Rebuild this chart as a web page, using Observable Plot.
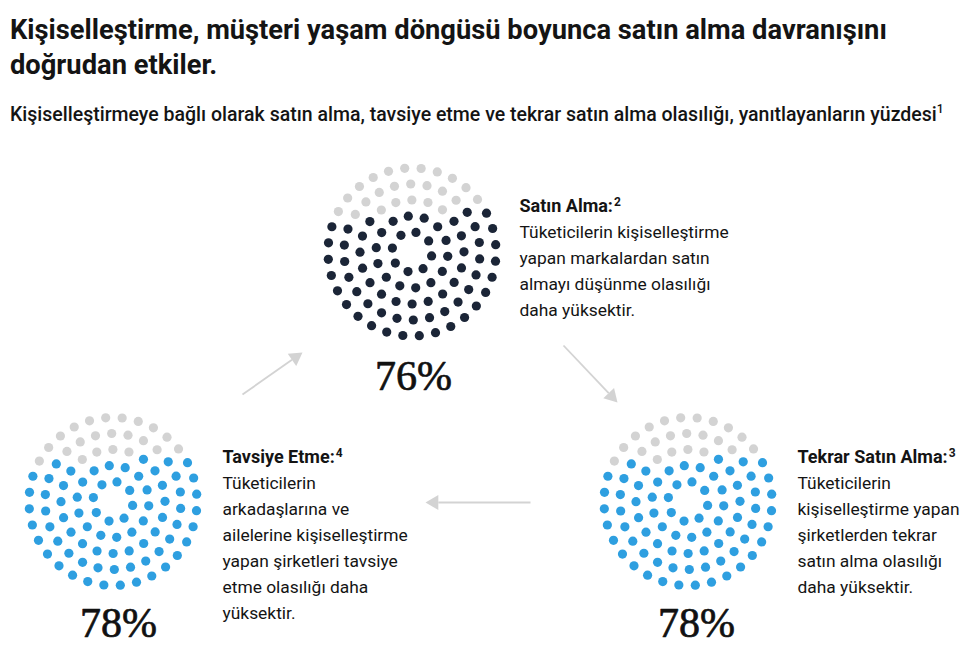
<!DOCTYPE html>
<html><head><meta charset="utf-8">
<script src="https://cdn.jsdelivr.net/npm/d3@7"></script>
<script src="https://cdn.jsdelivr.net/npm/@observablehq/plot@0.6"></script>
<style>
body{margin:0;background:#fff;font-family:Roboto,"Liberation Sans",sans-serif;color:#141414;}
#head{height:140px;position:relative;}
#title{position:absolute;left:10px;top:13px;font-size:27.3px;font-weight:700;line-height:35px;margin:0;white-space:nowrap;}
#sub{position:absolute;left:10px;top:102px;font-size:19.5px;font-weight:500;white-space:nowrap;}
#sub sup{font-size:12px;}
#chart svg{display:block;overflow:visible;}
</style></head><body>
<div id="head">
<div id="title">Kişiselleştirme, müşteri yaşam döngüsü boyunca satın alma davranışını<br>doğrudan etkiler.</div>
<div id="sub">Kişiselleştirmeye bağlı olarak satın alma, tavsiye etme ve tekrar satın alma olasılığı, yanıtlayanların yüzdesi<sup>1</sup></div>
</div>
<div id="chart"></div>
<script>
// ---- data ----
const metrics = ["Satın Alma", "Tekrar Satın Alma", "Tavsiye Etme"];
const values = [76, 78, 78];
const footnotes = ["2", "3", "4"];
const descriptions = [
  ["Tüketicilerin kişiselleştirme", "yapan markalardan satın", "almayı düşünme olasılığı", "daha yüksektir."],
  ["Tüketicilerin", "kişiselleştirme yapan", "şirketlerden tekrar", "satın alma olasılığı", "daha yüksektir."],
  ["Tüketicilerin", "arkadaşlarına ve", "ailelerine kişiselleştirme", "yapan şirketleri tavsiye", "etme olasılığı daha", "yüksektir."]
];

// ---- layout (page pixel positions) ----
const layout = [
  {cx: 411.5, cy: 251.5, px: 413, py: 389, tx: 519, ty: 211, color: "#1b2537"},
  {cx: 687.5, cy: 501, px: 696, py: 636, tx: 797, ty: 462, color: "#2e9fe0"},
  {cx: 112.5, cy: 501, px: 118, py: 636, tx: 222, ty: 462, color: "#2e9fe0"}
];
const ringRadii = [20, 36, 52, 68, 84];
const ringCounts = [8, 14, 20, 26, 32];
const arrows = [
  {x1: 242, y1: 394, x2: 302, y2: 352},
  {x1: 563, y1: 345, x2: 617, y2: 402},
  {x1: 530, y1: 502, x2: 425, y2: 502}
];
const gray = "#d3d3d3";
const lineGap = 26;

// ---- build dots ----
const dots = [];
metrics.forEach((m, i) => {
  const L = layout[i];
  const pts = [];
  ringRadii.forEach((r, k) => {
    const n = ringCounts[k];
    const phase = k * 0.37 + 0.2;
    for (let j = 0; j < n; j++) {
      const a = phase + 2 * Math.PI * j / n;
      const dx = r * Math.cos(a), dy = r * Math.sin(a);
      pts.push({dx, dy, key: dy + 0.1 * dx});
    }
  });
  pts.sort((a, b) => a.key - b.key);
  const total = pts.length;
  const grayCount = Math.round(total * (100 - values[i]) / 100);
  pts.forEach((p, idx) => {
    dots.push({x: L.cx + p.dx, y: L.cy + p.dy, fill: idx < grayCount ? gray : L.color});
  });
});

// ---- text rows ----
const labels = metrics.map((m, i) => ({x: layout[i].tx, y: layout[i].ty, text: m + ":"}));
const descRows = [];
descriptions.forEach((lines, i) => lines.forEach((t, j) => descRows.push({x: layout[i].tx, y: layout[i].ty + lineGap * (j + 1), text: t})));
const pcts = values.map((v, i) => ({x: layout[i].px, y: layout[i].py, text: v + "%"}));

// ---- arrow heads ----
const headR = 5.5;
const heads = arrows.map(a => {
  const dx = a.x2 - a.x1, dy = a.y2 - a.y1;
  const len = Math.hypot(dx, dy);
  const ux = dx / len, uy = dy / len;
  const yy = Math.sqrt(headR * headR * Math.PI / (3 * Math.sqrt(3)));
  return {x: a.x2 - ux * 2 * yy, y: a.y2 - uy * 2 * yy, rot: Math.atan2(ux, -uy) * 180 / Math.PI,
          sx: a.x2 - ux * 3 * yy, sy: a.y2 - uy * 3 * yy, x1: a.x1, y1: a.y1};
});

const chart = Plot.plot({
  width: 980, height: 526, margin: 0,
  x: {domain: [0, 980], range: [0, 980], axis: null},
  y: {domain: [140, 666], range: [0, 526], axis: null},
  color: {type: "identity"},
  style: {background: "transparent"},
  marks: [
    Plot.link(heads, {x1: "x1", y1: "y1", x2: "sx", y2: "sy", stroke: gray, strokeWidth: 1.8}),
    Plot.dot(heads, {x: "x", y: "y", symbol: "triangle", r: headR, rotate: "rot", fill: gray, stroke: null}),
    Plot.dot(dots, {x: "x", y: "y", r: 4.6, fill: "fill", stroke: null}),
    Plot.text(pcts, {x: "x", y: "y", text: "text", textAnchor: "middle", lineAnchor: "bottom", fontFamily: "Liberation Serif", fontSize: 42, fill: "#111", stroke: "#111", strokeWidth: 0.7}),
    Plot.text(labels, {x: "x", y: "y", text: "text", textAnchor: "start", lineAnchor: "bottom", fontFamily: "Roboto", fontWeight: 700, fontSize: 18, fill: "#141414"}),
    Plot.text(descRows, {x: "x", y: "y", text: "text", textAnchor: "start", lineAnchor: "bottom", fontFamily: "Roboto", fontSize: 17.4, fill: "#141414"})
  ]
});
// superscript footnote markers on the bold labels (second text mark)
const textGroups = chart.querySelectorAll('g[aria-label="text"]');
if (textGroups.length >= 2) {
  d3.select(textGroups[1]).selectAll("text").each(function(_, i) {
    d3.select(this).append("tspan").attr("dy", "-0.42em").attr("dx", "1").attr("font-size", 12).text(footnotes[i]);
  });
}
document.getElementById("chart").appendChild(chart);
</script>
</body></html>
